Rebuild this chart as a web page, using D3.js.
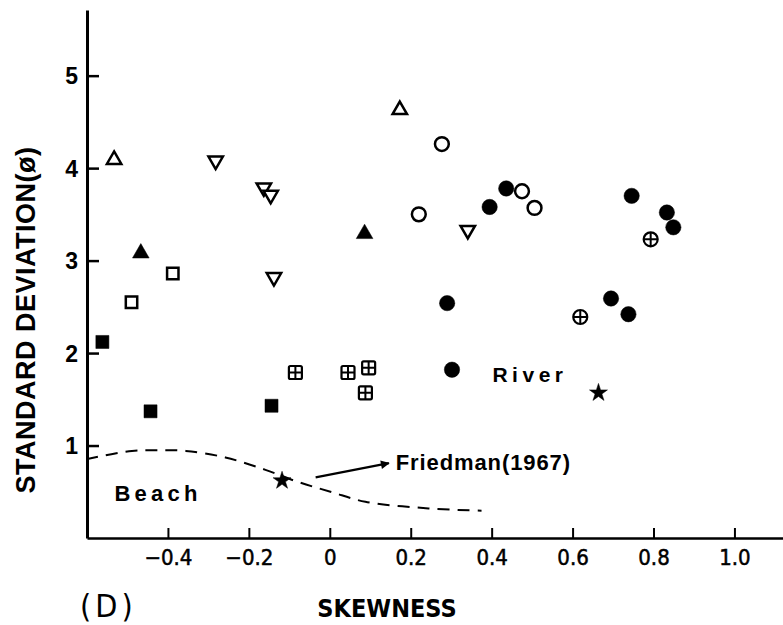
<!DOCTYPE html>
<html>
<head>
<meta charset="utf-8">
<script src="https://cdn.jsdelivr.net/npm/d3@7"></script>
<style>
  body { margin: 0; background: #fff; }
  svg { display: block; }
</style>
</head>
<body>
<svg id="chart" width="783" height="625"></svg>
<script>
/* Skewness vs standard deviation, panel (D) */

// sample groups, each point is [skewness, std deviation]
const openTriUp = [[-0.533, 4.09], [0.173, 4.63]]
const openTriDown = [[-0.282, 4.08], [-0.163, 3.79], [-0.146, 3.71], [-0.138, 2.82], [0.341, 3.33]]
const filledTriUp = [[-0.467, 3.08], [0.086, 3.29]]
const openSquares = [[-0.388, 2.86], [-0.49, 2.55]]
const filledSquares = [[-0.562, 2.12], [-0.443, 1.37], [-0.144, 1.43]]
const boxedPlus = [[-0.085, 1.79], [0.045, 1.79], [0.096, 1.84], [0.088, 1.57]]
const openCircles = [[0.277, 4.26], [0.22, 3.5], [0.475, 3.75], [0.506, 3.57]]
const filledCircles = [[0.436, 3.78], [0.395, 3.58], [0.29, 2.54], [0.302, 1.82],
  [0.746, 3.7], [0.833, 3.52], [0.849, 3.36], [0.695, 2.59], [0.738, 2.42]]
const circlePlus = [[0.793, 3.23], [0.619, 2.39]]
const stars = [[0.664, 1.57], [-0.118, 0.62]]

// Friedman (1967) beach / river boundary
const friedmanSkew = [-0.602, -0.489, -0.43, -0.356, -0.258, -0.159, -0.077, 0.005, 0.088, 0.244, 0.375]
const friedmanSd = [0.852, 0.942, 0.949, 0.942, 0.871, 0.737, 0.604, 0.496, 0.392, 0.32, 0.295]

const xTicks = [-0.4, -0.2, 0, 0.2, 0.4, 0.6, 0.8, 1.0]
const yTicks = [1, 2, 3, 4, 5]

const svg = d3.select('#chart')
const ink = '#000'
const bold = '"Liberation Sans", Arial, sans-serif'
const narrow = '"Liberation Sans Narrow", "DejaVu Sans Condensed", sans-serif'

const x = d3.scaleLinear().domain([-0.6, 1.12]).range([87, 783])
const y = d3.scaleLinear().domain([0, 5.71]).range([538, 10])

// axes, ticks point into the plot
const xAxis = d3.axisBottom(x)
  .tickValues(xTicks)
  .tickSizeInner(-10)
  .tickSizeOuter(0)
  .tickPadding(11)
  .tickFormat(d => d === 0 ? '0' : d3.format('.1f')(d))

const yAxis = d3.axisLeft(y)
  .tickValues(yTicks)
  .tickSizeInner(-12)
  .tickSizeOuter(0)
  .tickPadding(9)
  .tickFormat(d3.format('d'))

const gx = svg.append('g')
  .attr('transform', 'translate(0,' + y(0) + ')')
  .call(xAxis)
gx.select('.domain').attr('stroke-width', 2.5)
gx.selectAll('.tick line').attr('stroke-width', 2)
gx.selectAll('.tick text')
  .style('font-family', narrow)
  .style('font-size', '22px')
  .attr('fill', ink)
  .attr('stroke', ink)
  .attr('stroke-width', 0.5)

const gy = svg.append('g')
  .attr('transform', 'translate(' + x(-0.6) + ',0)')
  .call(yAxis)
gy.select('.domain').attr('stroke-width', 3)
gy.selectAll('.tick line').attr('stroke-width', 2.5)
gy.selectAll('.tick text')
  .style('font-family', bold)
  .style('font-size', '23px')
  .style('font-weight', 'bold')
  .attr('dy', '0.36em')
  .attr('fill', ink)

// Friedman dashed line
const friedman = friedmanSkew.map((s, i) => [s, friedmanSd[i]])
svg.append('path')
  .datum(friedman)
  .attr('fill', 'none')
  .attr('stroke', ink)
  .attr('stroke-width', 2)
  .attr('stroke-dasharray', '12,8')
  .attr('d', d3.line()
    .curve(d3.curveCatmullRom)
    .x(d => x(d[0]))
    .y(d => y(d[1])))

// markers
function place (d) { return 'translate(' + x(d[0]) + ',' + y(d[1]) + ')' }

function drawSymbol (data, type, size, filled, rotate) {
  svg.append('g').selectAll('path')
    .data(data)
    .join('path')
    .attr('transform', d => place(d) + (rotate ? ' rotate(180)' : ''))
    .attr('d', d3.symbol().type(type).size(size))
    .attr('fill', filled ? ink : '#fff')
    .attr('stroke', ink)
    .attr('stroke-width', filled ? 0.5 : 2.5)
}

drawSymbol(openTriUp, d3.symbolTriangle, 90, false, false)
drawSymbol(openTriDown, d3.symbolTriangle, 90, false, true)
drawSymbol(filledTriUp, d3.symbolTriangle, 120, true, false)
drawSymbol(openSquares, d3.symbolSquare, 130, false, false)
drawSymbol(filledSquares, d3.symbolSquare, 170, true, false)
drawSymbol(openCircles, d3.symbolCircle, 150, false, false)
drawSymbol(filledCircles, d3.symbolCircle, 185, true, false)
drawSymbol(stars, d3.symbolStar, 100, true, false)

// square with a cross inside
const bp = svg.append('g').selectAll('g')
  .data(boxedPlus)
  .join('g')
  .attr('transform', place)
bp.append('rect')
  .attr('x', -6.5).attr('y', -6.5).attr('width', 13).attr('height', 13)
  .attr('rx', 1.5)
  .attr('fill', '#fff').attr('stroke', ink).attr('stroke-width', 2.2)
bp.append('path')
  .attr('d', 'M-6.5,0H6.5M0,-6.5V6.5')
  .attr('stroke', ink).attr('stroke-width', 2)

// circle with a cross inside
const cp = svg.append('g').selectAll('g')
  .data(circlePlus)
  .join('g')
  .attr('transform', place)
cp.append('circle')
  .attr('r', 7)
  .attr('fill', '#fff').attr('stroke', ink).attr('stroke-width', 2.2)
cp.append('path')
  .attr('d', 'M-7,0H7M0,-7V7')
  .attr('stroke', ink).attr('stroke-width', 2)

// arrow to the Friedman label
svg.append('defs').append('marker')
  .attr('id', 'head')
  .attr('viewBox', '0 0 10 10')
  .attr('refX', 9).attr('refY', 5)
  .attr('markerWidth', 5).attr('markerHeight', 4)
  .attr('orient', 'auto')
  .append('path')
  .attr('d', 'M0,0L10,5L0,10z')
  .attr('fill', ink)

svg.append('line')
  .attr('x1', x(-0.035)).attr('y1', y(0.655))
  .attr('x2', x(0.146)).attr('y2', y(0.809))
  .attr('stroke', ink)
  .attr('stroke-width', 2.2)
  .attr('marker-end', 'url(#head)')

// annotations
function label (txt, sx, sy, size, spacing) {
  svg.append('text')
    .attr('x', x(sx)).attr('y', y(sy))
    .style('font-family', bold)
    .style('font-weight', 'bold')
    .style('font-size', size + 'px')
    .style('letter-spacing', spacing + 'px')
    .attr('fill', ink)
    .text(txt)
}
label('River', 0.402, 1.69, 21, 4.5)
label('Friedman(1967)', 0.163, 0.74, 22, 0.9)
label('Beach', -0.532, 0.4, 22, 4.2)

// axis titles
svg.append('text')
  .attr('transform', 'translate(35,320) rotate(-90)')
  .attr('text-anchor', 'middle')
  .style('font-family', bold)
  .style('font-weight', 'bold')
  .style('font-size', '27px')
  .style('letter-spacing', '0.5px')
  .attr('fill', ink)
  .text('STANDARD  DEVIATION(ø)')

svg.append('text')
  .attr('x', 387).attr('y', 617)
  .attr('text-anchor', 'middle')
  .style('font-family', narrow)
  .style('font-weight', 'bold')
  .style('font-size', '25px')
  .attr('fill', ink)
  .text('SKEWNESS')

svg.append('text')
  .attr('x', 80).attr('y', 617)
  .style('font-family', narrow)
  .style('font-weight', 'normal')
  .style('font-size', '32px')
  .style('letter-spacing', '4px')
  .attr('fill', ink)
  .text('(D)')
</script>
</body>
</html>
